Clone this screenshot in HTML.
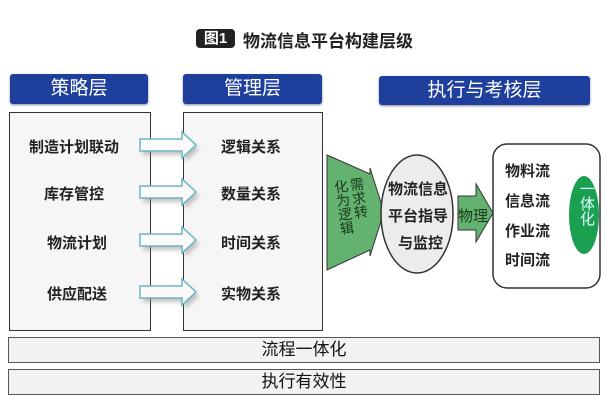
<!DOCTYPE html>
<html><head><meta charset="utf-8"><style>
body{margin:0;width:607px;height:408px;background:#fff;overflow:hidden;position:relative;font-family:"Liberation Sans","Noto Sans CJK SC",sans-serif;}
.a{position:absolute;}
.hdr{position:absolute;background:#1f3f9c;color:#fff;font-size:19px;text-align:center;border-radius:3px;box-shadow:0 1px 2px #889;}
.box{position:absolute;border:1.5px solid #333;background:#f6f6f6;}
.t{position:absolute;font-size:15px;font-weight:bold;color:#222;white-space:nowrap;}
.bar{position:absolute;left:8px;width:590px;height:24px;border:1.5px solid #555;background:#f2f2f2;font-size:17px;text-align:center;line-height:24px;color:#111;}
</style></head><body>
<div class="a" style="left:196px;top:29px;width:39px;height:19px;background:#222;border-radius:4px;color:#fff;font-weight:bold;font-size:15px;text-align:center;line-height:19px;">图1</div>
<div class="a" style="left:243px;top:27px;font-size:17px;font-weight:bold;color:#222;">物流信息平台构建层级</div>

<div class="hdr" style="left:10px;top:74px;width:138px;height:30px;line-height:30px;">策略层</div>
<div class="hdr" style="left:183px;top:74px;width:139px;height:30px;line-height:30px;">管理层</div>
<div class="hdr" style="left:379px;top:76px;width:211px;height:29px;line-height:29px;">执行与考核层</div>

<div class="box" style="left:9px;top:112px;width:140px;height:217px;"></div>
<div class="box" style="left:183px;top:112px;width:138px;height:217px;"></div>

<div class="t" style="left:29px;top:136px;">制造计划联动</div>
<div class="t" style="left:44px;top:183px;">库存管控</div>
<div class="t" style="left:47px;top:232px;">物流计划</div>
<div class="t" style="left:47px;top:283px;">供应配送</div>
<div class="t" style="left:221px;top:136px;">逻辑关系</div>
<div class="t" style="left:221px;top:183px;">数量关系</div>
<div class="t" style="left:221px;top:232px;">时间关系</div>
<div class="t" style="left:221px;top:283px;">实物关系</div>

<svg class="a" style="left:0;top:0" width="607" height="408">
<defs><filter id="s"><feGaussianBlur stdDeviation="2"/></filter></defs>
<g>
<path d="M140 139 H182 V132 L196 145 L182 158 V151 H140Z" fill="#888" opacity=".5" filter="url(#s)" transform="translate(3,4)"/>
<path d="M140 139 H182 V132 L196 145 L182 158 V151 H140Z" fill="#fafafa" stroke="#6ab8c0" stroke-width="1.5"/>
<path d="M140 186 H182 V179 L196 192 L182 205 V198 H140Z" fill="#888" opacity=".5" filter="url(#s)" transform="translate(3,4)"/>
<path d="M140 186 H182 V179 L196 192 L182 205 V198 H140Z" fill="#fafafa" stroke="#6ab8c0" stroke-width="1.5"/>
<path d="M140 234 H182 V227 L196 240 L182 253 V246 H140Z" fill="#888" opacity=".5" filter="url(#s)" transform="translate(3,4)"/>
<path d="M140 234 H182 V227 L196 240 L182 253 V246 H140Z" fill="#fafafa" stroke="#6ab8c0" stroke-width="1.5"/>
<path d="M140 286 H182 V279 L196 292 L182 305 V298 H140Z" fill="#888" opacity=".5" filter="url(#s)" transform="translate(3,4)"/>
<path d="M140 286 H182 V279 L196 292 L182 305 V298 H140Z" fill="#fafafa" stroke="#6ab8c0" stroke-width="1.5"/>
</g>
<path d="M327 155 L370 174 V168 L384 212 L370 256 V250 L327 270Z" fill="#63b26f" stroke="#333" stroke-width="1"/>
<ellipse cx="417" cy="214" rx="36" ry="59" fill="#ececec" stroke="#333" stroke-width="1.5"/>
<path d="M458 196 H476 V184 L493 213 L476 242 V230 H458Z" fill="#63b26f" stroke="#333" stroke-width="1"/>
<rect x="493" y="144" width="107" height="144" rx="14" fill="#fff" stroke="#333" stroke-width="1.5"/>
<ellipse cx="584" cy="215" rx="15" ry="39" fill="#1aa050"/>
</svg>

<div class="a" style="left:336px;top:178px;font-size:14px;writing-mode:vertical-rl;color:#1a3a1a;line-height:16px;white-space:nowrap;transform:rotate(-8deg);">需求转<br>化为逻辑</div>
<div class="t" style="left:388px;top:178px;">物流信息</div>
<div class="t" style="left:388px;top:205px;">平台指导</div>
<div class="t" style="left:398px;top:232px;">与监控</div>
<div class="t" style="left:458px;top:205px;font-weight:normal;color:#1a3a1a;">物理</div>
<div class="t" style="left:505px;top:160px;">物料流</div>
<div class="t" style="left:505px;top:190px;">信息流</div>
<div class="t" style="left:505px;top:220px;">作业流</div>
<div class="t" style="left:505px;top:249px;">时间流</div>
<div class="t" style="left:576px;top:181px;font-size:15px;font-weight:normal;color:#dff;writing-mode:vertical-rl;">一体化</div>

<div class="bar" style="top:337px;">流程一体化</div>
<div class="bar" style="top:369px;">执行有效性</div>
</body></html>
